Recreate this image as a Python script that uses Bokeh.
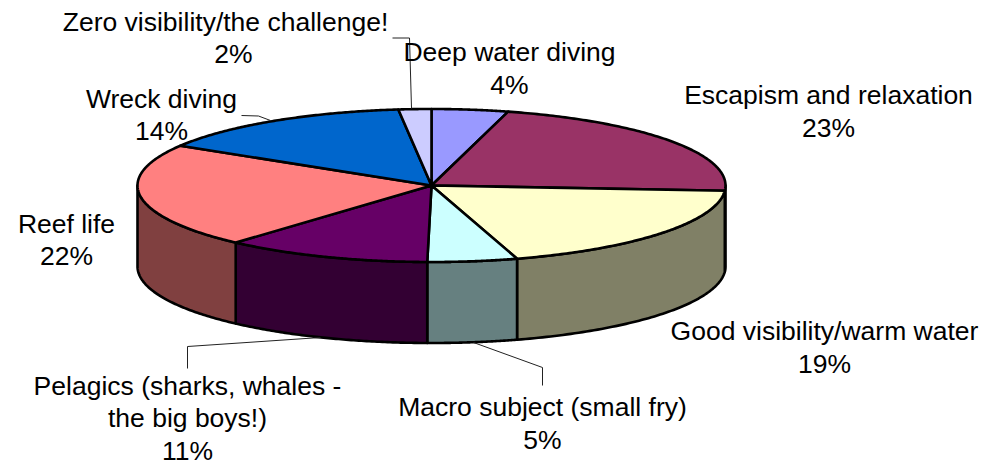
import numpy as np
from bokeh.plotting import figure
from bokeh.models import ColumnDataSource, Range1d
from bokeh.core.properties import value
from bokeh.embed import file_html
from bokeh.resources import INLINE

categories = ["Deep water diving", "Escapism and relaxation", "Good visibility/warm water",
              "Macro subject (small fry)", "Pelagics (sharks, whales - the big boys!)",
              "Reef life", "Wreck diving", "Zero visibility/the challenge!"]
percent_labels = ["4%", "23%", "19%", "5%", "11%", "22%", "14%", "2%"]
values = [4.2, 21.9, 19.2, 4.93, 11.37, 22.1, 14.5, 1.8]
top_colors = ["#9999FF", "#993366", "#FFFFCC", "#CCFFFF", "#660066", "#FF8080", "#0066CC", "#CCCCFF"]
side_colors = ["#4D4D80", "#4D1A33", "#808066", "#668080", "#330033", "#804040", "#003366", "#666680"]

W, H = 981, 465
CX, CY, RX, RY, DEPTH = 431.0, 185.0, 294.0, 76.5, 81.0

p = figure(width=W, height=H, output_backend="svg", toolbar_location=None,
           x_range=Range1d(0, W), y_range=Range1d(H, 0),
           min_border=0, outline_line_color=None, background_fill_color="white")
p.axis.visible = False
p.grid.visible = False

fractions = np.cumsum([0.0] + values) / sum(values)
angles = fractions * 2 * np.pi


def px(t):
    return CX + RX * np.sin(t)


# y grows downward in this range; theta = 0 at top, clockwise
def ey(t):
    return CY - RY * np.cos(t)


side_xs, side_ys, side_fill = [], [], []
for i in range(len(values)):
    a = max(angles[i], np.pi / 2)
    b = min(angles[i + 1], 3 * np.pi / 2)
    if b <= a:
        continue
    t = np.linspace(a, b, 80)
    side_xs.append(list(px(t)) + list(px(t[::-1])))
    side_ys.append(list(ey(t)) + list(ey(t[::-1]) + DEPTH))
    side_fill.append(side_colors[i])
p.patches(xs="x", ys="y", fill_color="c", line_color="black", line_width=2.6, line_join="round",
          source=ColumnDataSource(dict(x=side_xs, y=side_ys, c=side_fill)))

top_xs, top_ys = [], []
for i in range(len(values)):
    t = np.linspace(angles[i], angles[i + 1], 120)
    top_xs.append([CX] + list(px(t)))
    top_ys.append([CY] + list(ey(t)))
p.patches(xs="x", ys="y", fill_color="c", line_color="black", line_width=2.6, line_join="round",
          source=ColumnDataSource(dict(x=top_xs, y=top_ys, c=top_colors)))

# leader lines
leaders_x = [[392, 409, 411], [241, 258, 270], [473, 542, 542], [320, 187, 187]]
leaders_y = [[37.5, 37.5, 108], [115, 115.5, 120], [342, 367, 385], [337, 346, 368]]
p.multi_line(leaders_x, leaders_y, line_color="#222222", line_width=1)

# text lines: (text, x centre, y centre)
lines = [
    (categories[7], 225, 21), (percent_labels[7], 233, 53),
    (categories[0], 509, 51), (percent_labels[0], 509, 84),
    (categories[1], 828, 94), (percent_labels[1], 828, 127),
    (categories[2], 824, 330), (percent_labels[2], 824, 363),
    (categories[3], 542, 406), (percent_labels[3], 542, 439),
    ("Pelagics (sharks, whales -", 187, 385), ("the big boys!)", 187, 417), (percent_labels[4], 187, 450),
    (categories[5], 66, 223), (percent_labels[5], 66, 255),
    (categories[6], 161, 98), (percent_labels[6], 161, 130),
]
p.text(x=[l[1] for l in lines], y=[l[2] for l in lines], text=[l[0] for l in lines],
       text_font=value("Liberation Sans"), text_font_size="26.5px", text_color="black",
       text_align="center", text_baseline="middle")

open("out.html", "w").write(file_html(p, INLINE))
